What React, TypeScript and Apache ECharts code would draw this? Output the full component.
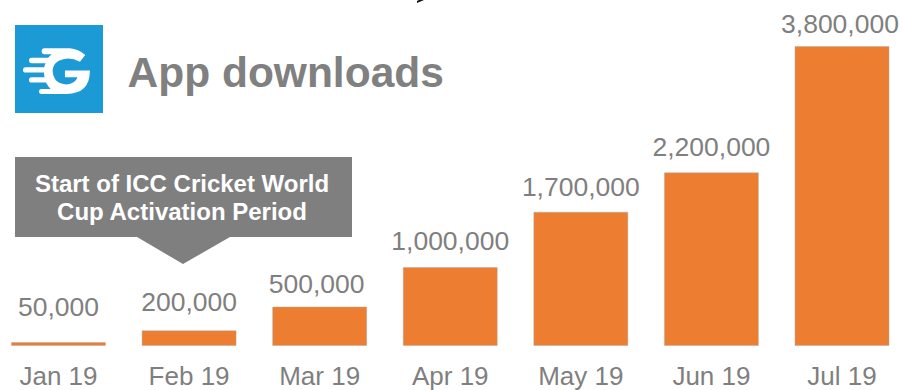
import React, { useEffect, useRef } from "react";
import * as echarts from "echarts";

const months = ["Jan 19", "Feb 19", "Mar 19", "Apr 19", "May 19", "Jun 19", "Jul 19"];
const downloads = [50000, 200000, 500000, 1000000, 1700000, 2200000, 3800000];
const chartTitle = "App downloads";
const calloutLines = "Start of ICC Cricket World\nCup Activation Period";

const FONT = '"Liberation Sans", Arial, sans-serif';
const GREY = "#7f7f7f";

// Stylised "G" with speed lines; path units are a third of a pixel.
const LOGO_PATH =
  "M103 85 L180 85 Q205 87 226 105 L210 125 Q190 115 170 116 Q130 120 128 152 Q130 192 170 194 Q195 192 203 172 L165 172 L165 152 L240 152 Q240 222 170 222 L95 222 Q87 222 87 215 Q87 207 95 207 L122 207 Q112 197 108 188 L65 188 Q57 188 57 180 Q57 172 65 172 L104 172 Q102 165 102 158 L47 158 Q39 158 39 150 Q39 142 47 142 L103 142 Q104 135 107 130 L65 130 Q57 130 57 121 Q57 113 65 113 L115 113 Q120 107 125 103 L103 103 Q95 103 95 94 Q95 85 103 85 Z";
echarts.graphic.registerShape("brandMark", echarts.graphic.extendPath(LOGO_PATH, {}) as any);

export default function App() {
  const ref = useRef<HTMLDivElement>(null);

  useEffect(() => {
    document.body.style.margin = "0";
    const chart = echarts.init(ref.current!, undefined, { renderer: "svg" });

    // The value labels were placed by hand, so each has its own gap above the bar.
    const labelGap = [21.5, 14.5, 9, 12.5, 11.5, 12, 8.5];
    const labelShift = [0, 0, -3, 0, 0, 0, -2];

    chart.setOption({
      animation: false,
      backgroundColor: "#ffffff",
      grid: { left: 58.5, top: 46, width: 783.5, height: 300, containLabel: false },
      xAxis: {
        type: "category",
        data: months,
        boundaryGap: false,
        axisLine: { show: false },
        axisTick: { show: false },
        axisLabel: { color: GREY, fontFamily: FONT, fontSize: 26, margin: 17, interval: 0 },
      },
      yAxis: { type: "value", min: 0, max: 3800000, show: false },
      series: [
        {
          type: "bar",
          clip: false,
          data: downloads.map((value, i) => ({
            value,
            label: { distance: labelGap[i], offset: [labelShift[i], 0] },
          })),
          barWidth: 95,
          itemStyle: { color: "#ed7d31", borderColor: "rgba(170,170,170,0.45)", borderWidth: 1 },
          label: {
            show: true,
            position: "top",
            color: GREY,
            fontFamily: FONT,
            fontSize: 26.5,
            formatter: (p: any) => Number(p.value).toLocaleString("en-US"),
          },
        },
      ],
      graphic: [
        // Tail of a heading cut off by the top edge
        { type: "polygon", shape: { points: [[417, 3], [424, 0], [419, 0], [417, 1]] }, style: { fill: "#111111" } },
        { type: "rect", shape: { x: 15, y: 25, width: 88, height: 88 }, style: { fill: "#1b9ad6" } },
        { type: "brandMark", x: 10, y: 20, scaleX: 1 / 3, scaleY: 1 / 3, style: { fill: "#ffffff" } } as any,
        {
          type: "text",
          x: 127.5,
          y: 72,
          style: { text: chartTitle, fill: "#808080", fontFamily: FONT, fontWeight: "bold", fontSize: 42.5, verticalAlign: "middle" },
        },
        {
          type: "polygon",
          shape: { points: [[15, 157], [352, 157], [352, 237], [230, 237], [183, 264], [137, 237], [15, 237]] },
          style: { fill: "#7f7f7f" },
        },
        {
          type: "text",
          x: 182,
          y: 197,
          style: {
            text: calloutLines,
            fill: "#ffffff",
            fontFamily: FONT,
            fontWeight: "bold",
            fontSize: 24,
            lineHeight: 28,
            align: "center",
            verticalAlign: "middle",
          },
        },
      ],
    });
    return () => chart.dispose();
  }, []);

  return <div ref={ref} style={{ width: 902, height: 390 }} />;
}
